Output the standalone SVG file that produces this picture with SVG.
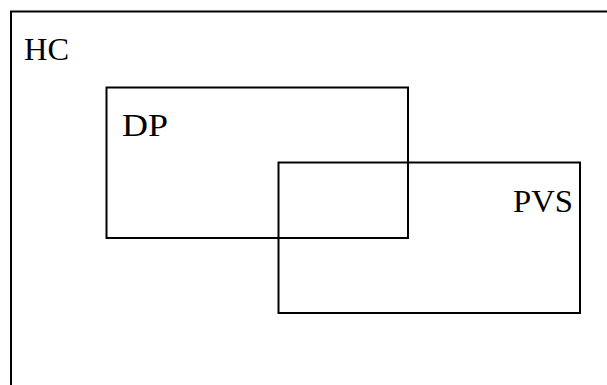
<svg xmlns="http://www.w3.org/2000/svg" width="607" height="385" viewBox="0 0 607 385">
<style>
.box{fill:none;stroke:#000;stroke-width:2}
.lbl{font-family:"Liberation Serif","DejaVu Serif",serif;font-size:31px;fill:#000}
</style>
<rect x="0" y="0" width="607" height="385" fill="#fff"/>
<g id="HC">
<path class="box" d="M11 386 V11.5 H608"/>
<text class="lbl" x="24" y="60" textLength="45" lengthAdjust="spacingAndGlyphs">HC</text>
</g>
<g id="DP">
<rect class="box" x="106.5" y="87.5" width="301.5" height="150.5"/>
<text class="lbl" x="122" y="136" textLength="46" lengthAdjust="spacingAndGlyphs">DP</text>
</g>
<g id="PVS">
<rect class="box" x="278.5" y="162.5" width="301.5" height="150.5"/>
<text class="lbl" x="573" y="212" text-anchor="end" textLength="60" lengthAdjust="spacingAndGlyphs">PVS</text>
</g>
<g id="connectors"/>
</svg>
